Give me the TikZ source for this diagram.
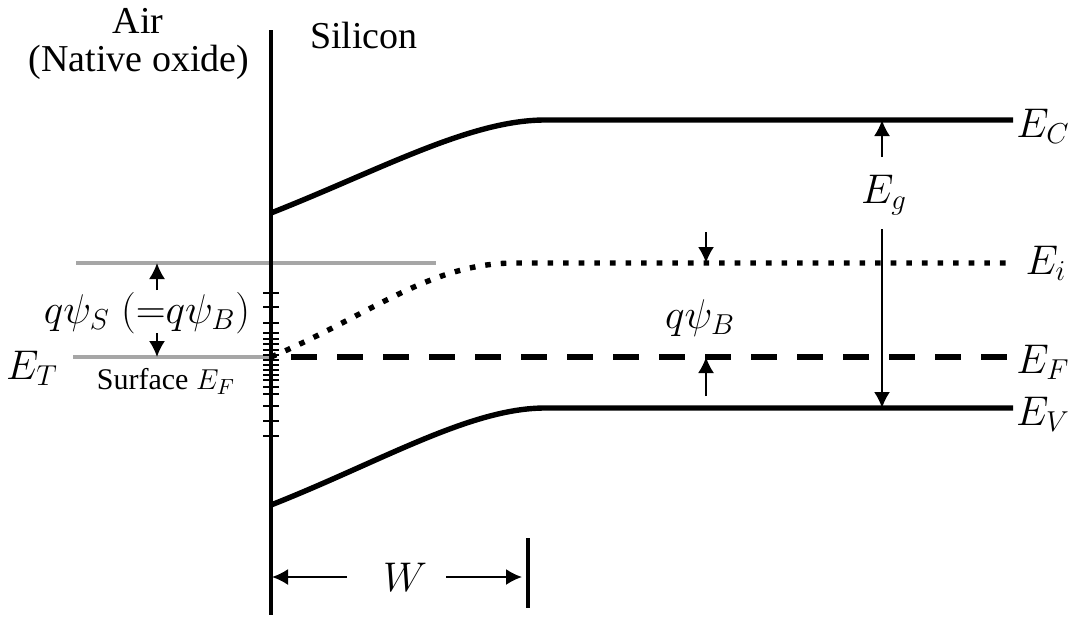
\documentclass[tikz,border=0pt]{standalone}
\usepackage{fontspec}
\setmainfont{Liberation Serif}
\usetikzlibrary{arrows.meta}
\tikzset{
  band/.style={line width=2.7pt},
  lvl/.style={font=\fontsize{22}{25}\selectfont,inner sep=1pt},
  txt/.style={font=\fontsize{19}{22}\selectfont,inner sep=1pt},
  ptr/.style={line width=1pt,-{Latex[length=8pt,width=8pt]}},
  guide/.style={line width=1.6pt,black!35},
}
\begin{document}
\begin{tikzpicture}[x=0.5pt,y=-0.5pt]
  \useasboundingbox (0,0) rectangle (1070,617);
  % Band bending at a silicon surface with interface traps
  \node[txt] (air) at (138,21) {Air};
  \node[txt] (oxide) at (139,62) {(Native oxide)};
  \node[txt] (si) at (364,35) {Silicon};
  % surface reference levels
  \coordinate (gi0) at (76,263);
  \coordinate (gi1) at (436,263);
  \coordinate (gf0) at (73,357);
  \coordinate (gf1) at (271,357);
  \draw[guide] (gi0) -- (gi1);
  \draw[guide] (gf0) -- (gf1);
  % interface
  \coordinate (itop) at (271,30);
  \coordinate (ibot) at (271,615);
  \draw[line width=1.8pt] (itop) -- (ibot);
  \foreach \y in {293,307,323,333,339,344,350,355,360,365,370,375,380,387,394,406,421,436}
    \draw[line width=1pt] (263,\y) -- (279,\y);
  % bands
  \coordinate (ec0) at (271,213);
  \coordinate (ec1) at (545,120);
  \coordinate (ec2) at (1013,120);
  \coordinate (ev0) at (271,505);
  \coordinate (ev1) at (545,408);
  \coordinate (ev2) at (1013,408);
  \coordinate (ei0) at (271,357);
  \coordinate (ei1) at (515,263);
  \coordinate (ei2) at (1013,263);
  \coordinate (ef2) at (1013,357);
  \draw[band] (ec0) .. controls (380,170) and (470,120) .. (ec1) -- (ec2);
  \draw[band] (ev0) .. controls (380,462) and (470,408) .. (ev1) -- (ev2);
  \draw[band,dash pattern=on 2.8pt off 5pt] (ei0) .. controls (370,315) and (430,263) .. (ei1) -- (ei2);
  \draw[band,dash pattern=on 13pt off 10pt,dash phase=13pt] (ei0) -- (ef2);
  \node[lvl] (ec) at (1043,126) {$E_C$};
  \node[lvl] (ei) at (1046,263) {$E_i$};
  \node[lvl] (ef) at (1043,362) {$E_F$};
  \node[lvl] (ev) at (1043,414) {$E_V$};
  % band gap
  \node[lvl] (eg) at (884,195) {$E_g$};
  \coordinate (egc) at (882,120);
  \coordinate (egv) at (882,408);
  \draw[ptr] (882,157) -- (egc);
  \draw[ptr] (882,229) -- (egv);
  % bulk potential
  \node[lvl] (psib) at (700,318) {$q\psi_B$};
  \coordinate (pbi) at (706,263);
  \coordinate (pbf) at (706,357);
  \draw[ptr] (706,232) -- (pbi);
  \draw[ptr] (706,396) -- (pbf);
  % surface potential
  \node[font=\fontsize{22.5}{26}\selectfont,inner sep=1pt] (psis) at (147,313) {$q\psi_S\ ({=}q\psi_B)$};
  \node[lvl] (et) at (32,368) {$E_T$};
  \node[font=\fontsize{15}{17}\selectfont,inner sep=1pt] (sef) at (166,381) {Surface $E_F$};
  \coordinate (psi1) at (157,263);
  \coordinate (psi2) at (157,357);
  \draw[ptr] (157,290) -- (psi1);
  \draw[ptr] (157,333) -- (psi2);
  % depletion width
  \coordinate (wl) at (272,577);
  \coordinate (wr) at (522,577);
  \draw[line width=1.8pt] (528,538) -- (528,608);
  \node[lvl] (w) at (405,577) {$W$};
  \draw[ptr] (347,577) -- (wl);
  \draw[ptr] (446,577) -- (wr);
\end{tikzpicture}
\end{document}
